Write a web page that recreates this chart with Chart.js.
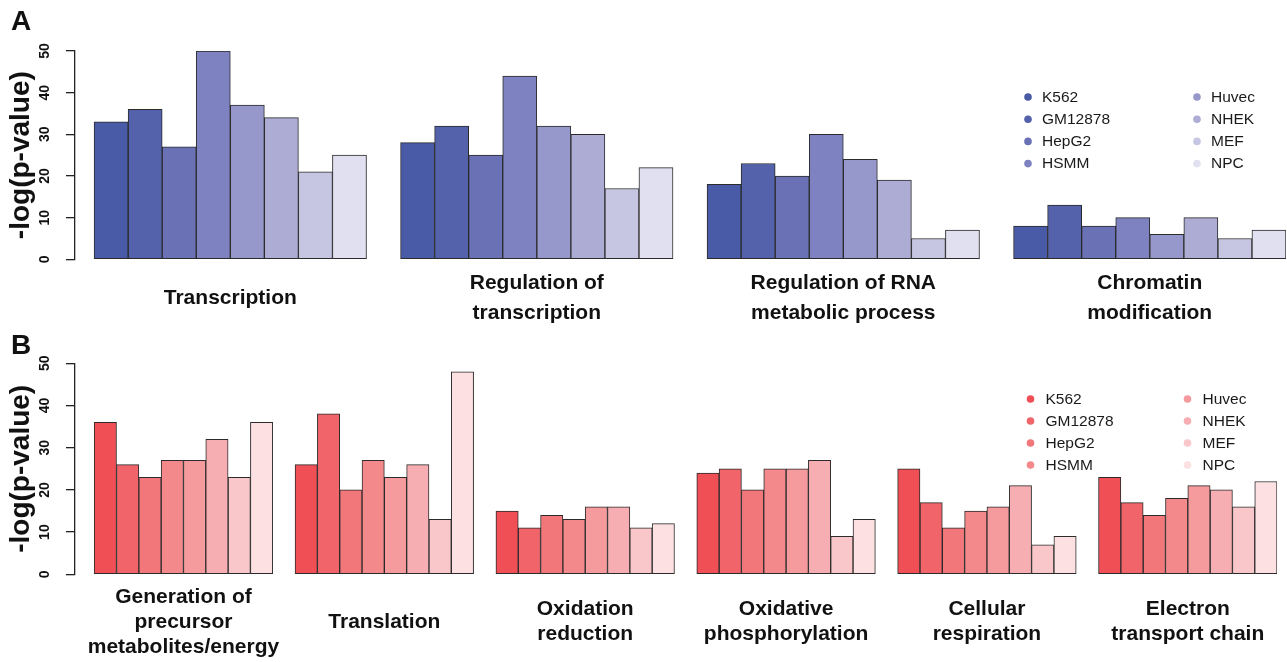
<!DOCTYPE html>
<html>
<head>
<meta charset="utf-8">
<title>GO enrichment by cell line</title>
<script src="https://cdn.jsdelivr.net/npm/chart.js@4.4.1/dist/chart.umd.min.js"></script>
<style>
  html, body { margin: 0; padding: 0; background: #ffffff; overflow: hidden; }
  #wrapA { position: absolute; left: 0; top: 0; width: 1287px; height: 330px; }
  #wrapB { position: absolute; left: 0; top: 330px; width: 1287px; height: 332px; }
</style>
</head>
<body>
<div id="wrapA"><canvas id="panelA"></canvas></div>
<div id="wrapB"><canvas id="panelB"></canvas></div>
<script>
// Cell lines (one bar per line inside every GO term group)
const cellLines = ['K562', 'GM12878', 'HepG2', 'HSMM', 'Huvec', 'NHEK', 'MEF', 'NPC'];

// Y axis
const yMin = 0;
const yMax = 50;
const yStep = 10;

// Panel A: GO terms and -log(p-value) per cell line
const termsA = [
  ['Transcription'],
  ['Regulation of', 'transcription'],
  ['Regulation of RNA', 'metabolic process'],
  ['Chromatin', 'modification']
];
const transcription = [33, 36, 27, 50, 37, 34, 21, 25];
const regulationOfTranscription = [28, 32, 25, 44, 32, 30, 17, 22];
const regulationOfRnaMetabolicProcess = [18, 23, 20, 30, 24, 19, 5, 7];
const chromatinModification = [8, 13, 8, 10, 6, 10, 5, 7];

// Panel B: GO terms and -log(p-value) per cell line
const termsB = [
  ['Generation of', 'precursor', 'metabolites/energy'],
  ['Translation'],
  ['Oxidation', 'reduction'],
  ['Oxidative', 'phosphorylation'],
  ['Cellular', 'respiration'],
  ['Electron', 'transport chain']
];
const generationOfPrecursorMetabolites = [36, 26, 23, 27, 27, 32, 23, 36];
const translation = [26, 38, 20, 27, 23, 26, 13, 48];
const oxidationReduction = [15, 11, 14, 13, 16, 16, 11, 12];
const oxidativePhosphorylation = [24, 25, 20, 25, 25, 27, 9, 13];
const cellularRespiration = [25, 17, 11, 15, 16, 21, 7, 9];
const electronTransportChain = [23, 17, 14, 18, 21, 20, 16, 22];

// Colour ramps, darkest first
const blueRamp = ['#495AA7', '#5462AC', '#6A72B5', '#7E82C0', '#9697CA', '#ACACD5', '#C6C6E2', '#E0E0F0'];
const redRamp  = ['#EF4F55', '#F16469', '#F2777A', '#F4898C', '#F59B9E', '#F7AEB2', '#F9C7C9', '#FCE0E2'];

const FONT = '"Liberation Sans", Arial, Helvetica, sans-serif';

// Panel letter plus a two-column legend of cell lines
const panelDecor = {
  id: 'panelDecor',
  afterDraw(chart, args, opts) {
    const ctx = chart.ctx;
    ctx.save();
    ctx.textBaseline = 'middle';
    ctx.textAlign = 'left';
    ctx.fillStyle = '#111111';
    ctx.font = 'bold 28px ' + FONT;
    ctx.fillText(opts.letter, opts.letterX, opts.letterY);

    ctx.font = '15.5px ' + FONT;
    chart.data.datasets.forEach((ds, i) => {
      const col = Math.floor(i / 4);
      const row = i % 4;
      const cx = opts.legendX + col * opts.colGap;
      const cy = opts.legendY + row * opts.rowGap;
      ctx.beginPath();
      ctx.arc(cx, cy, 3.8, 0, Math.PI * 2);
      ctx.fillStyle = ds.backgroundColor;
      ctx.fill();
      ctx.fillStyle = '#1a1a1a';
      ctx.fillText(ds.label, cx + opts.textGap, cy + 0.5);
    });
    ctx.restore();
  }
};

function buildPanel(canvasId, terms, groups, colors, cfg) {
  const perGroup = cellLines.length;
  const pitch = perGroup + 1;               // one empty bar slot between groups
  const centers = terms.map((t, g) => g * pitch + (perGroup - 1) / 2);

  const datasets = cellLines.map((name, i) => ({
    label: name,
    data: groups.map((vals, g) => ({ x: g * pitch + i, y: vals[i] })),
    backgroundColor: colors[i],
    borderColor: '#2b2b2b',
    borderWidth: 1,
    borderSkipped: false,
    grouped: false,
    barPercentage: 1,
    categoryPercentage: 1
  }));

  return new Chart(document.getElementById(canvasId), {
    type: 'bar',
    data: { datasets },
    plugins: [panelDecor],
    options: {
      responsive: true,
      maintainAspectRatio: false,
      animation: false,
      layout: { padding: { top: cfg.padTop, right: 1, bottom: 0, left: 0 } },
      plugins: {
        legend: { display: false },
        tooltip: { enabled: false },
        panelDecor: cfg.decor
      },
      scales: {
        x: {
          type: 'linear',
          offset: false,
          min: cfg.xMin,
          max: (terms.length - 1) * pitch + perGroup - 0.5,
          grid: { display: false, drawTicks: false },
          border: { display: false },
          afterBuildTicks: (axis) => { axis.ticks = centers.map(v => ({ value: v })); },
          afterFit: (axis) => { axis.height = cfg.xHeight; },
          ticks: {
            autoSkip: false,
            maxRotation: 0,
            minRotation: 0,
            crossAlign: 'center',
            padding: cfg.labelPad,
            color: '#111111',
            font: { family: FONT, size: 21, weight: 'bold', lineHeight: cfg.labelLine },
            callback: (value) => {
              const g = centers.indexOf(value);
              return g >= 0 ? terms[g] : '';
            }
          }
        },
        y: {
          min: yMin,
          max: yMax,
          afterFit: (axis) => { axis.width = 75; },
          grid: { drawOnChartArea: false, drawTicks: true, tickLength: 9, color: '#222222', lineWidth: 1.3 },
          border: { display: true, color: '#222222', width: 1.3 },
          ticks: {
            stepSize: yStep,
            minRotation: 90,
            maxRotation: 90,
            crossAlign: 'center',
            padding: 13,
            color: '#111111',
            font: { family: FONT, size: 14, weight: 'bold' }
          },
          title: {
            display: true,
            text: '-log(p-value)',
            color: '#111111',
            padding: { top: 4.7, bottom: 0 },
            font: { family: FONT, size: 28, weight: 'bold' }
          }
        }
      }
    }
  });
}

buildPanel('panelA', termsA,
  [transcription, regulationOfTranscription, regulationOfRnaMetabolicProcess, chromatinModification],
  blueRamp,
  {
    padTop: 51, xHeight: 70.7, xMin: -1.06, labelPad: 23.7, labelLine: 30 / 21,
    decor: { letter: 'A', letterX: 11, letterY: 22, legendX: 1028, legendY: 97, colGap: 169, rowGap: 22.2, textGap: 14 }
  });

buildPanel('panelB', termsB,
  [generationOfPrecursorMetabolites, translation, oxidationReduction, oxidativePhosphorylation, cellularRespiration, electronTransportChain],
  redRamp,
  {
    padTop: 33.3, xHeight: 87.7, xMin: -1.36, labelPad: 22.7, labelLine: 25 / 21,
    decor: { letter: 'B', letterX: 11, letterY: 16.5, legendX: 1030.5, legendY: 69, colGap: 157, rowGap: 22, textGap: 15 }
  });
</script>
</body>
</html>
